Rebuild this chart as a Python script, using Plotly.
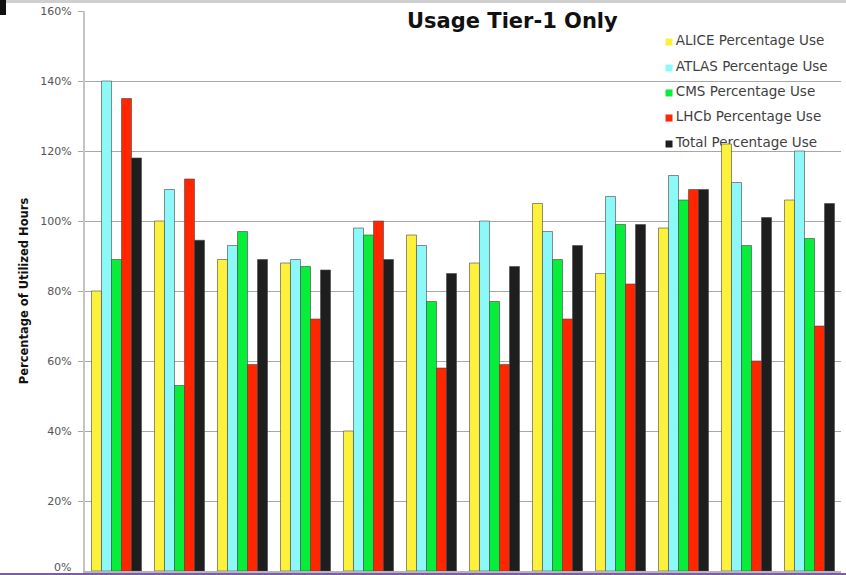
import plotly.graph_objects as go

# Twelve reporting periods, five usage series each (percent of pledged hours)
periods = [str(i) for i in range(1, 13)]
series_names = [
    "ALICE Percentage Use",
    "ATLAS Percentage Use",
    "CMS Percentage Use",
    "LHCb Percentage Use",
    "Total Percentage Use",
]
alice = [80, 100, 89, 88, 40, 96, 88, 105, 85, 98, 122, 106]
atlas = [140, 109, 93, 89, 98, 93, 100, 97, 107, 113, 111, 120]
cms = [89, 53, 97, 87, 96, 77, 77, 89, 99, 106, 93, 95]
lhcb = [135, 112, 59, 72, 100, 58, 59, 72, 82, 109, 60, 70]
total = [118, 94.5, 89, 86, 89, 85, 87, 93, 99, 109, 101, 105]
values = [alice, atlas, cms, lhcb, total]
colors = ["#FDF13C", "#8DF8F8", "#06EE3A", "#FF2600", "#1E1E1E"]

y_ticks = [20, 40, 60, 80, 100, 120, 140, 160]
y_tick_labels = [f"{v}%" for v in y_ticks]

fig = go.Figure()

# Key entries sit on the base subplot so the bars (overlay subplot) paint over them
key_y = [0.9446, 0.8982, 0.8536, 0.8089, 0.7625]
fig.add_trace(go.Scatter(
    x=[0.7725] * 5, y=key_y, mode="markers",
    marker=dict(symbol="square", size=7, color=colors, line=dict(width=0)),
    xaxis="x", yaxis="y", showlegend=False, hoverinfo="skip",
))
fig.add_trace(go.Scatter(
    x=[0.7815] * 5, y=key_y, mode="text", text=series_names,
    textposition="middle right",
    textfont=dict(family="DejaVu Sans", size=13.5, color="#3f3f3f"),
    xaxis="x", yaxis="y", showlegend=False, hoverinfo="skip",
))

for name, vals, col in zip(series_names, values, colors):
    fig.add_trace(go.Bar(
        x=periods, y=vals, name=name,
        marker=dict(color=col, line=dict(color="rgba(70,70,70,0.6)", width=1)),
        xaxis="x2", yaxis="y2", showlegend=False,
    ))

fig.update_layout(
    width=846, height=575,
    margin=dict(l=85, r=5, t=11, b=4, autoexpand=False),
    paper_bgcolor="white", plot_bgcolor="white",
    barmode="group", bargap=0.206, bargroupgap=0,
    xaxis=dict(range=[0, 1], visible=False, fixedrange=True, automargin=False),
    yaxis=dict(range=[0, 1], visible=False, fixedrange=True, automargin=False),
    xaxis2=dict(
        overlaying="x", type="category", showgrid=False, automargin=False,
        showline=True, linecolor="#b5b5b5", linewidth=2,
        ticks="outside", tickson="boundaries", ticklen=4, tickcolor="#b5b5b5",
        showticklabels=False,
    ),
    yaxis2=dict(
        overlaying="y", side="left", range=[0, 160], automargin=False,
        tickmode="array", tickvals=y_ticks, ticktext=y_tick_labels,
        showgrid=True, gridcolor="#a8a8a8", gridwidth=1,
        showline=True, linecolor="#c4c4c4", linewidth=2,
        ticks="outside", ticklen=5, tickcolor="#a8a8a8",
        ticklabelstandoff=4,
        tickfont=dict(family="DejaVu Sans", size=11, color="#555555"),
        zeroline=False,
        title=dict(text="<b>Percentage of Utilized Hours</b>",
                   font=dict(family="DejaVu Sans", size=11.5, color="#111111"),
                   standoff=9),
    ),
    annotations=[
        dict(text="<b>Usage Tier-1 Only</b>", xref="paper", yref="paper",
             x=0.565, y=0.983, xanchor="center", yanchor="middle", showarrow=False,
             font=dict(family="DejaVu Sans", size=21, color="#111111")),
        # baseline label kept inside the page above the bottom rule
        dict(text="0%", xref="paper", yref="paper",
             x=-13 / 756, y=-4 / 560, xanchor="right", yanchor="bottom",
             showarrow=False, borderpad=0,
             font=dict(family="DejaVu Sans", size=11, color="#555555")),
    ],
    shapes=[
        # frame strip across the top edge and corner block
        dict(type="rect", xref="paper", yref="paper",
             x0=-85 / 756, x1=761 / 756, y0=1 + 8 / 560, y1=1 + 11 / 560,
             fillcolor="#cfcfcf", line=dict(width=0), layer="below"),
        dict(type="rect", xref="paper", yref="paper",
             x0=-85 / 756, x1=-79 / 756, y0=1 - 4 / 560, y1=1 + 11 / 560,
             fillcolor="#111111", line=dict(width=0)),
        # purple rule along the bottom edge
        dict(type="rect", xref="paper", yref="paper",
             x0=-85 / 756, x1=761 / 756, y0=-4 / 560, y1=-2 / 560,
             fillcolor="#7a5ca8", line=dict(width=0)),
    ],
)

fig.write_html("out.html")
